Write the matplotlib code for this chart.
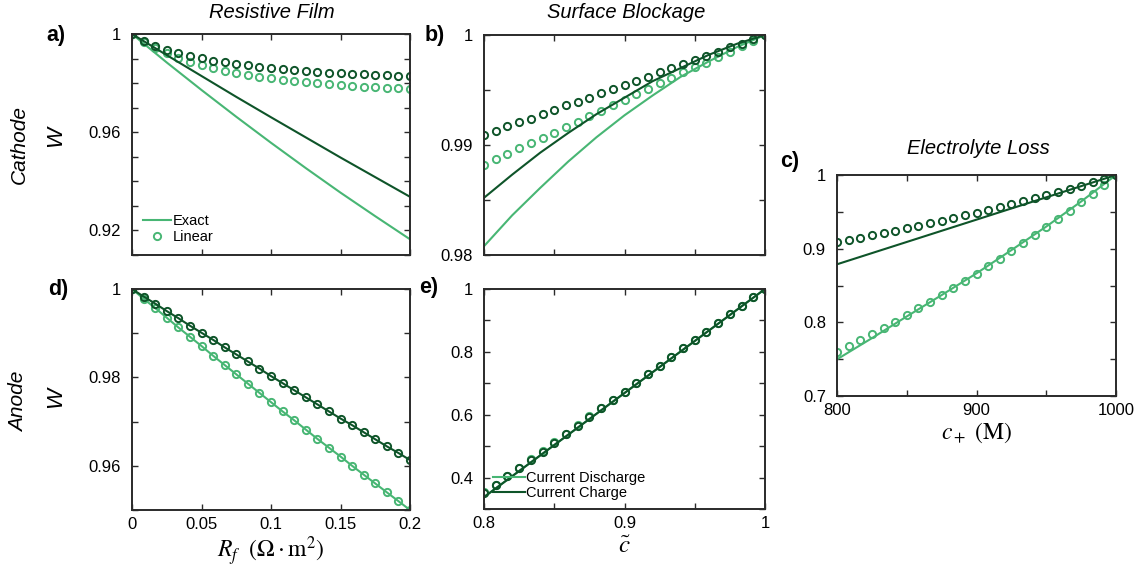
import numpy as np
import matplotlib.pyplot as plt

plt.rcParams['font.family'] = ['Liberation Sans', 'DejaVu Sans']
plt.rcParams['mathtext.fontset'] = 'stix'

DARK = '#0e5429'
LIGHT = '#48b674'

# ---- data -------------------------------------------------------------
# film resistance grid (markers) and coarse grid for the exact curves
rf = np.linspace(0, 0.2, 25)
rf_exact = [0, 0.025, 0.05, 0.075, 0.1, 0.125, 0.15, 0.175, 0.2]

# a) cathode, resistive film
cat_rf_exact_dis = [1.0, 0.9884, 0.9772, 0.9663, 0.9557, 0.9454, 0.9354, 0.9258, 0.9164]
cat_rf_exact_chg = [1.0, 0.9914, 0.9829, 0.9744, 0.9661, 0.9579, 0.9497, 0.9417, 0.9337]
cat_rf_lin_dis = [1.0, 0.9966, 0.9942, 0.9921, 0.9901, 0.9887, 0.9873, 0.9861, 0.9850,
                  0.9841, 0.9832, 0.9825, 0.9819, 0.9813, 0.9808, 0.9804, 0.9800,
                  0.9796, 0.9793, 0.9789, 0.9786, 0.9783, 0.9782, 0.9779, 0.9775]
cat_rf_lin_chg = [1.0, 0.9973, 0.9952, 0.9936, 0.9922, 0.9911, 0.9901, 0.9891, 0.9884,
                  0.9877, 0.9872, 0.9866, 0.9861, 0.9857, 0.9853, 0.9849, 0.9846,
                  0.9843, 0.9841, 0.9838, 0.9836, 0.9834, 0.9832, 0.9830, 0.9828]

# b) cathode, surface blockage
c_tilde = np.linspace(0.8, 1.0, 25)
c_exact = [0.8, 0.82, 0.84, 0.86, 0.88, 0.9, 0.92, 0.94, 0.96, 0.98, 1.0]
cat_sb_exact_chg = [0.9852, 0.9873, 0.9893, 0.9911, 0.9928, 0.9943, 0.9958, 0.9970, 0.9982, 0.9992, 1.0]
cat_sb_exact_dis = [0.9808, 0.9836, 0.9861, 0.9885, 0.9907, 0.9927, 0.9945, 0.9962, 0.9976, 0.9989, 1.0]
cat_sb_lin_chg = [0.9909, 0.9913, 0.9917, 0.9921, 0.9924, 0.9928, 0.9932, 0.9936, 0.9939,
                  0.9943, 0.9947, 0.9951, 0.9955, 0.9958, 0.9962, 0.9966, 0.9970,
                  0.9974, 0.9977, 0.9981, 0.9985, 0.9989, 0.9992, 0.9996, 1.0]
cat_sb_lin_dis = [0.9882, 0.9887, 0.9892, 0.9897, 0.9902, 0.9906, 0.9911, 0.9916, 0.9921,
                  0.9926, 0.9931, 0.9936, 0.9941, 0.9946, 0.9951, 0.9956, 0.9961,
                  0.9966, 0.9971, 0.9975, 0.9980, 0.9985, 0.9990, 0.9995, 1.0]

# c) electrolyte loss
c_plus = np.linspace(800, 1000, 25)
c_plus_chg_exact = [800, 850, 900, 950, 1000]
el_exact_chg = [0.8788, 0.9091, 0.9394, 0.9697, 1.0]
c_plus_dis_exact = [800, 825, 850, 875, 900, 925, 950, 975, 1000]
el_exact_dis = [0.7498, 0.7785, 0.8080, 0.8370, 0.8665, 0.8980, 0.9300, 0.9640, 1.0]
el_lin_chg = [0.9095, 0.9122, 0.9149, 0.9181, 0.9213, 0.9244, 0.9276, 0.9312, 0.9344,
              0.9380, 0.9416, 0.9453, 0.9488, 0.9525, 0.9566, 0.9602, 0.9643,
              0.9684, 0.9724, 0.9765, 0.9810, 0.9855, 0.9901, 0.9946, 1.0]
el_lin_dis = [0.7601, 0.7679, 0.7760, 0.7842, 0.7927, 0.8009, 0.8100, 0.8191, 0.8276,
              0.8371, 0.8470, 0.8564, 0.8660, 0.8761, 0.8864, 0.8968, 0.9073,
              0.9181, 0.9290, 0.9403, 0.9515, 0.9629, 0.9742, 0.9860, 1.0]

# d) anode, resistive film
an_rf_chg = [1.0, 0.9983, 0.9967, 0.9950, 0.9934, 0.9917, 0.9901, 0.9885, 0.9868,
             0.9852, 0.9836, 0.9820, 0.9803, 0.9787, 0.9771, 0.9755, 0.9739,
             0.9723, 0.9707, 0.9692, 0.9676, 0.9660, 0.9644, 0.9629, 0.9613]
an_rf_dis = [1.0, 0.9978, 0.9957, 0.9935, 0.9913, 0.9892, 0.9871, 0.9849, 0.9828,
             0.9807, 0.9786, 0.9765, 0.9744, 0.9723, 0.9703, 0.9682, 0.9661,
             0.9641, 0.9621, 0.9600, 0.9580, 0.9560, 0.9540, 0.9520, 0.9500]

# e) anode, surface blockage
c_exact_e = [0.8, 0.85, 0.9, 0.95, 1.0]
an_sb_exact = [0.338, 0.5035, 0.669, 0.8345, 1.0]
an_sb_lin_chg = [0.3507, 0.3749, 0.4035, 0.4289, 0.4566, 0.4829, 0.5115, 0.5392, 0.5656,
                 0.5942, 0.6209, 0.6472, 0.6736, 0.7003, 0.7290, 0.7563, 0.7830,
                 0.8116, 0.8379, 0.8643, 0.8929, 0.9196, 0.9469, 0.9736, 1.0]
an_sb_lin_dis = [0.3535, 0.3775, 0.4057, 0.4305, 0.4580, 0.4840, 0.5125, 0.5400, 0.5662,
                 0.5947, 0.6213, 0.6475, 0.6738, 0.7003, 0.7290, 0.7563, 0.7830,
                 0.8116, 0.8379, 0.8643, 0.8929, 0.9196, 0.9469, 0.9736, 1.0]

# ---- figure -----------------------------------------------------------
W_PX, H_PX = 1141, 571
fig = plt.figure(figsize=(W_PX / 100, H_PX / 100), dpi=100)


def add_panel(left, top, right, bottom):
    return fig.add_axes([left / W_PX, 1 - bottom / H_PX,
                         (right - left) / W_PX, (bottom - top) / H_PX])


def fig_text(x, y, s, **kw):
    fig.text(x / W_PX, 1 - y / H_PX, s, ha='center', va='center', **kw)


def style(ax, xticks, xlabels, yticks, ylabels):
    for sp in ax.spines.values():
        sp.set_linewidth(1.4)
        sp.set_color('#2a2a2a')
    ax.tick_params(direction='in', top=True, right=True, length=4, width=1,
                   labelsize=12, color='#2a2a2a')
    ax.tick_params(axis='y', pad=8)
    ax.tick_params(axis='x', pad=5)
    ax.set_xticks(xticks)
    ax.set_xticklabels(xlabels)
    ax.set_yticks(yticks)
    ax.set_yticklabels(ylabels)


mk = dict(marker='o', ms=5.2, mfc='none', mew=1.4)
lw = 1.5

# a) Cathode - resistive film
ax = add_panel(132, 34, 410, 255)
ax.plot(rf_exact, cat_rf_exact_dis, color=LIGHT, lw=lw, label='Exact')
ax.plot(rf, cat_rf_lin_dis, color=LIGHT, ls='none', label='Linear', **mk)
ax.plot(rf_exact, cat_rf_exact_chg, color=DARK, lw=lw)
ax.plot(rf, cat_rf_lin_chg, color=DARK, ls='none', **mk)
ax.set_xlim(0, 0.2)
ax.set_ylim(0.91, 1.0)
style(ax, [0, 0.05, 0.1, 0.15, 0.2], [''] * 5,
      [0.91, 0.92, 0.93, 0.94, 0.95, 0.96, 0.97, 0.98, 0.99, 1.0],
      ['', '0.92', '', '', '', '0.96', '', '', '', '1'])
ax.legend(loc='lower left', frameon=False, fontsize=10.5, handlelength=1.9,
          handletextpad=0.15, labelspacing=0.15, borderaxespad=0.35)

# b) Cathode - surface blockage
ax = add_panel(484, 35, 765, 255)
ax.plot(c_exact, cat_sb_exact_dis, color=LIGHT, lw=lw)
ax.plot(c_tilde, cat_sb_lin_dis, color=LIGHT, ls='none', **mk)
ax.plot(c_exact, cat_sb_exact_chg, color=DARK, lw=lw)
ax.plot(c_tilde, cat_sb_lin_chg, color=DARK, ls='none', **mk)
ax.set_xlim(0.8, 1.0)
ax.set_ylim(0.98, 1.0)
style(ax, [0.8, 0.85, 0.9, 0.95, 1.0], [''] * 5,
      [0.98, 0.985, 0.99, 0.995, 1.0], ['0.98', '', '0.99', '', '1'])

# c) Electrolyte loss
ax = add_panel(837, 175, 1116, 396)
ax.plot(c_plus_dis_exact, el_exact_dis, color=LIGHT, lw=lw)
ax.plot(c_plus, el_lin_dis, color=LIGHT, ls='none', **mk)
ax.plot(c_plus_chg_exact, el_exact_chg, color=DARK, lw=lw)
ax.plot(c_plus, el_lin_chg, color=DARK, ls='none', **mk)
ax.set_xlim(800, 1000)
ax.set_ylim(0.7, 1.0)
style(ax, [800, 850, 900, 950, 1000], ['800', '', '900', '', '1000'],
      [0.7, 0.75, 0.8, 0.85, 0.9, 0.95, 1.0], ['0.7', '', '0.8', '', '0.9', '', '1'])
ax.set_xlabel(r'$c_+\ (\mathrm{M})$', fontsize=17, labelpad=2)

# d) Anode - resistive film (exact and linear coincide)
ax = add_panel(132, 289, 410, 510)
ax.plot(rf, an_rf_dis, color=LIGHT, lw=lw, **mk)
ax.plot(rf, an_rf_chg, color=DARK, lw=lw, **mk)
ax.set_xlim(0, 0.2)
ax.set_ylim(0.95, 1.0)
style(ax, [0, 0.05, 0.1, 0.15, 0.2], ['0', '0.05', '0.1', '0.15', '0.2'],
      [0.95, 0.96, 0.97, 0.98, 0.99, 1.0], ['', '0.96', '', '0.98', '', '1'])
ax.set_xlabel(r'$R_f\ \ (\Omega \cdot \mathrm{m}^2)$', fontsize=17, labelpad=2)

# e) Anode - surface blockage
ax = add_panel(484, 289, 765, 509)
ax.plot(c_exact_e, an_sb_exact, color=LIGHT, lw=lw, label='Current Discharge')
ax.plot(c_tilde, an_sb_lin_dis, color=LIGHT, ls='none', **mk)
ax.plot(c_exact_e, an_sb_exact, color=DARK, lw=lw, label='Current Charge')
ax.plot(c_tilde, an_sb_lin_chg, color=DARK, ls='none', **mk)
ax.set_xlim(0.8, 1.0)
ax.set_ylim(0.3, 1.0)
style(ax, [0.8, 0.85, 0.9, 0.95, 1.0], ['0.8', '', '0.9', '', '1'],
      [0.3, 0.4, 0.5, 0.6, 0.7, 0.8, 0.9, 1.0],
      ['', '0.4', '', '0.6', '', '0.8', '', '1'])
ax.set_xlabel(r'$\tilde{c}$', fontsize=18, labelpad=2)
ax.legend(loc='lower left', frameon=False, fontsize=10.5, handlelength=2.2,
          handletextpad=0.1, labelspacing=0.1, borderaxespad=0.2)

# column titles, row labels and panel letters
fig_text(272, 13, 'Resistive Film', fontsize=14.5, style='italic')
fig_text(626, 13, 'Surface Blockage', fontsize=14.5, style='italic')
fig_text(978, 148, 'Electrolyte Loss', fontsize=14.5, style='italic')

fig_text(19, 145, 'Cathode', fontsize=15, style='italic', rotation=90)
fig_text(56, 136, 'W', fontsize=16, style='italic', rotation=90)
fig_text(19, 402, 'Anode', fontsize=15, style='italic', rotation=90)
fig_text(56, 398, 'W', fontsize=16, style='italic', rotation=90)

for lab, x, y in [('a)', 56, 35), ('b)', 435, 35), ('c)', 790, 162),
                  ('d)', 58, 290), ('e)', 429, 287)]:
    fig_text(x, y, lab, fontsize=15.5, fontweight='bold')

fig.savefig('out.png', dpi=100)
